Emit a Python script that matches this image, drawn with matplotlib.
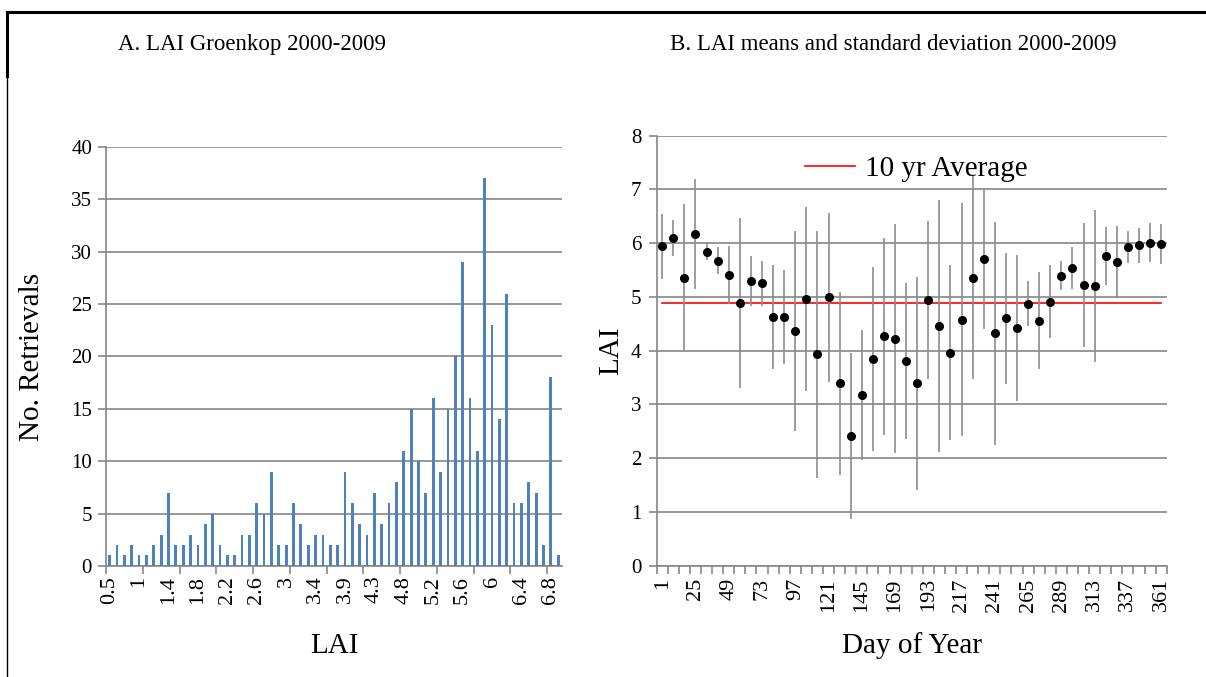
import numpy as np
import matplotlib.pyplot as plt
from matplotlib.lines import Line2D

plt.rcParams["font.family"] = ["Liberation Serif", "DejaVu Serif"]

# --------------------------------------------------
# Data
# --------------------------------------------------
# A. histogram of LAI retrievals (62 bins, labels every 4th bin)
counts = [1, 2, 1, 2, 1, 1, 2, 3, 7, 2, 2, 3, 2, 4, 5, 2, 1, 1, 3, 3, 6, 5,
          9, 2, 2, 6, 4, 2, 3, 3, 2, 2, 9, 6, 4, 3, 7, 4, 6, 8, 11, 15, 10,
          7, 16, 9, 15, 20, 29, 16, 11, 37, 23, 14, 26, 6, 6, 8, 7, 2, 18, 1]
lai_labels = ["0.5", "1", "1.4", "1.8", "2.2", "2.6", "3", "3.4", "3.9",
              "4.3", "4.8", "5.2", "5.6", "6", "6.4", "6.8"]

# B. 8-day LAI means and standard deviations
doy = [1, 9, 17, 25, 33, 41, 49, 57, 65, 73, 81, 89, 97, 105, 113, 121,
       129, 137, 145, 153, 161, 169, 177, 185, 193, 201, 209, 217, 225,
       233, 241, 249, 257, 265, 273, 281, 289, 297, 305, 313, 321, 329,
       337, 345, 353, 361]
lai_mean = [5.94, 6.10, 5.36, 6.17, 5.84, 5.67, 5.41, 4.89, 5.30, 5.25,
            4.63, 4.63, 4.36, 4.96, 3.93, 4.99, 3.39, 2.41, 3.18, 3.84,
            4.27, 4.22, 3.80, 3.39, 4.94, 4.46, 3.96, 4.58, 5.36, 5.70,
            4.32, 4.60, 4.42, 4.87, 4.56, 4.91, 5.39, 5.53, 5.22, 5.20,
            5.77, 5.65, 5.93, 5.96, 6.01, 5.98]
lai_sd = [0.60, 0.34, 1.36, 1.03, 0.16, 0.25, 0.54, 1.58, 0.46, 0.42,
          0.97, 0.88, 1.86, 1.71, 2.30, 1.57, 1.70, 1.55, 1.21, 1.71,
          1.83, 2.13, 1.45, 1.98, 1.47, 2.34, 1.63, 2.16, 1.89, 1.30,
          2.07, 1.22, 1.36, 0.42, 0.91, 0.68, 0.27, 0.39, 1.16, 1.41,
          0.54, 0.67, 0.30, 0.33, 0.36, 0.37]
avg_lai = 4.88

grid_col = "#868686"
tick_fs = 15
xtick_fs = 16
label_fs = 21

fig = plt.figure(figsize=(12.06, 6.77), dpi=100)

# frame lines around the figure panel
fig.add_artist(Line2D([0.0058, 1.0], [0.9823, 0.9823], color="black", lw=2.2))
fig.add_artist(Line2D([0.0058, 0.0058], [0.9823, 0.888], color="black", lw=2.2))
fig.add_artist(Line2D([0.0058, 0.0058], [0.888, 0.0], color="black", lw=1.0))

fig.text(0.209, 0.934, "A. LAI Groenkop 2000-2009", ha="center", va="center",
         fontsize=16.5)
fig.text(0.741, 0.934, "B. LAI means and standard deviation 2000-2009",
         ha="center", va="center", fontsize=16.5)

# --------------------------------------------------
# A. Histogram
# --------------------------------------------------
ax1 = fig.add_axes([0.0879, 0.164, 0.378, 0.619])
x1 = np.arange(len(counts))
ax1.bar(x1, counts, width=0.38, color="#4F81BD", zorder=3)
ax1.set_xlim(-0.5, len(counts) - 0.5)
ax1.set_ylim(0, 40)
ax1.set_yticks(np.arange(0, 41, 5))
ax1.grid(axis="y", color=grid_col, lw=1.2, zorder=0)

# tick marks every 5 bins, labels every 4 bins
ax1.set_xticks(np.arange(-0.5, len(counts), 5))
ax1.set_xticklabels([])
ax1.set_xticks(np.arange(0, len(lai_labels) * 4, 4), minor=True)
ax1.set_xticklabels(lai_labels, minor=True, rotation=90)
ax1.tick_params(axis="x", which="major", length=6, color=grid_col, width=1.2)
ax1.tick_params(axis="x", which="minor", length=0, pad=7, labelsize=xtick_fs)
ax1.tick_params(axis="y", length=6, color=grid_col, width=1.2,
                labelsize=tick_fs, pad=4)
for s in ["top", "right"]:
    ax1.spines[s].set_visible(False)
for s in ["left", "bottom"]:
    ax1.spines[s].set_color(grid_col)
    ax1.spines[s].set_linewidth(1.2)
ax1.set_ylabel("No. Retrievals", fontsize=label_fs, labelpad=19)
ax1.set_xlabel("LAI", fontsize=label_fs, labelpad=21)

# --------------------------------------------------
# B. Means with standard deviation
# --------------------------------------------------
ax2 = fig.add_axes([0.5445, 0.1644, 0.4229, 0.6352])
x2 = np.arange(len(doy))
ax2.errorbar(x2, lai_mean, yerr=lai_sd, fmt="o", color="black",
             ecolor="#8c8c8c", elinewidth=1.2, markersize=5.5, capsize=0,
             zorder=4)
ax2.plot(x2, [avg_lai] * len(doy), color="#FF0000", lw=1.2, zorder=3,
         label="10 yr Average")
ax2.set_xlim(-0.5, len(doy) - 0.5)
ax2.set_ylim(0, 8)
ax2.set_yticks(np.arange(0, 9, 1))
ax2.grid(axis="y", color=grid_col, lw=1.2, zorder=0)

ax2.set_xticks(np.arange(-0.5, len(doy), 1), minor=True)
ax2.set_xticks(x2[::3])
ax2.set_xticklabels([str(d) for d in doy[::3]], rotation=90)
ax2.tick_params(axis="x", which="minor", length=6, color=grid_col, width=1.2)
ax2.tick_params(axis="x", which="major", length=0, pad=9, labelsize=xtick_fs)
ax2.tick_params(axis="y", length=6, color=grid_col, width=1.2,
                labelsize=tick_fs, pad=5)
for s in ["top", "right"]:
    ax2.spines[s].set_visible(False)
for s in ["left", "bottom"]:
    ax2.spines[s].set_color(grid_col)
    ax2.spines[s].set_linewidth(1.2)
ax2.set_ylabel("LAI", fontsize=label_fs, labelpad=5)
ax2.set_xlabel("Day of Year", fontsize=label_fs, labelpad=15)

ax2.legend(loc="upper left", bbox_to_anchor=(0.24, 1.015), frameon=False,
           fontsize=label_fs, handlelength=1.7, handletextpad=0.35)

fig.savefig("out.png", dpi=100)
